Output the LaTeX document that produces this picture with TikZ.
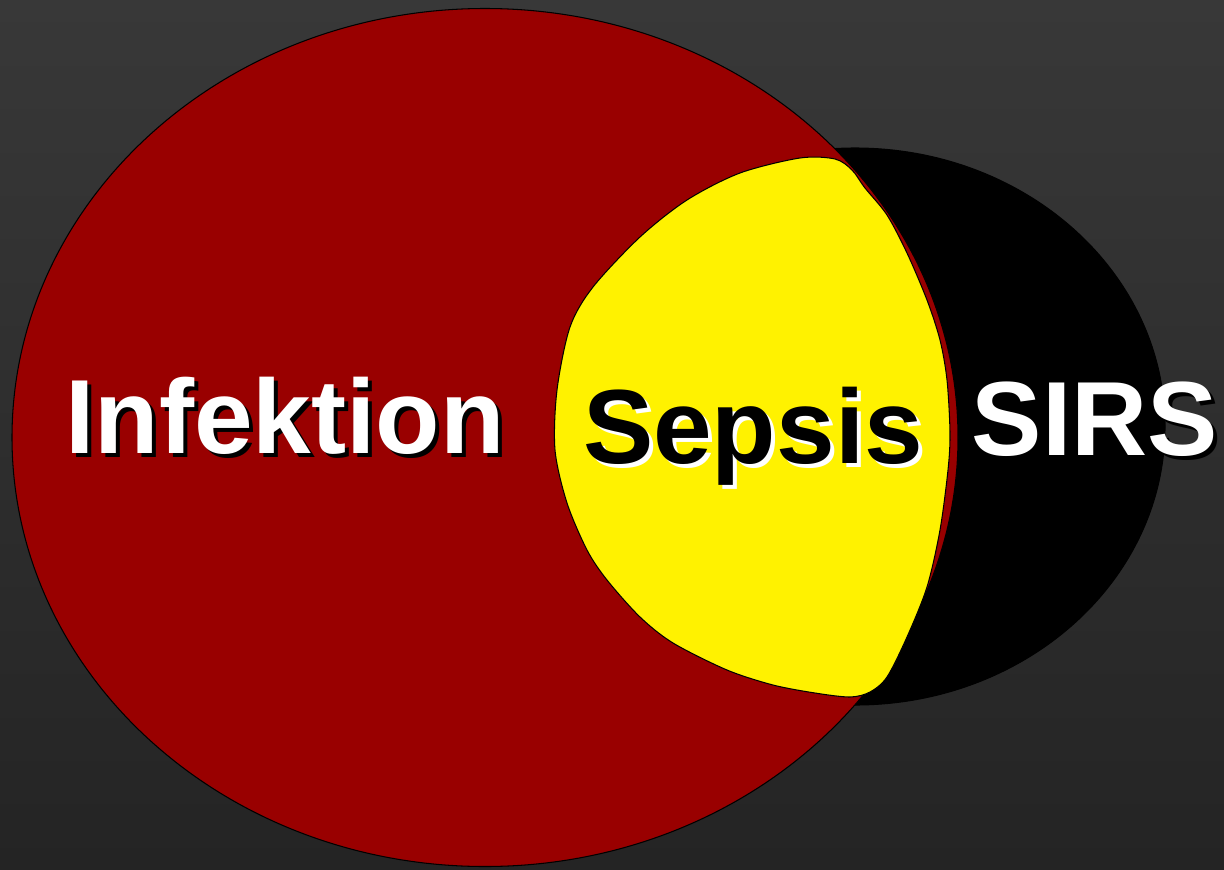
\documentclass[tikz,border=0pt]{standalone}
\usepackage{fontspec}
\setmainfont{Liberation Sans}
\usetikzlibrary{positioning}
\definecolor{bgtop}{RGB}{56,56,56}
\definecolor{bgmid}{RGB}{74,74,74}
\definecolor{bgbot}{RGB}{36,36,36}
\definecolor{infred}{RGB}{153,0,0}

\begin{document}
\begin{tikzpicture}[x=0.02cm,y=-0.02cm,every node/.style={font=\fontsize{60}{72}\selectfont\bfseries},
  lbl/.style={inner sep=0pt,anchor=base},
  outl/.style={draw=black,line width=.6pt}]
\useasboundingbox (0,0) rectangle (1224,869);
\shade[top color=bgtop,middle color=bgmid,bottom color=bgbot] (0,0) rectangle (1224,869);
% SIRS, then Infektion on top
\filldraw[outl,fill=black] (855,426.5) ellipse [x radius=310, y radius=278.5];
\filldraw[outl,fill=infred] (485,437.5) ellipse [x radius=473, y radius=429];
% Sepsis area
\filldraw[outl,fill=yellow] plot[smooth cycle,tension=.5] coordinates {
 (800,158) (835,159) (852,170) (865,188) (887,215) (907,253) (927,300) (940,340)
 (947,380) (950,433) (948,470) (940,530) (927,587) (907,637) (887,677) (870,692)
 (850,697) (815,693) (773,685) (727,670) (673,643) (640,617) (607,580) (587,550)
 (567,503) (555,450) (557,390) (570,327) (593,287) (640,237) (687,200) (740,173)};
% labels with shadow
\node[lbl,text=black] (infs) at (289,457) {Infektion};
\node[lbl,text=white] (inf) at (285,453) {Infektion};
\node[lbl,text=white] (seps) at (757,467) {Sepsis};
\node[lbl,text=black] (sep) at (753,463) {Sepsis};
\node[lbl,text=black] (sirss) at (1099,459) {SIRS};
\node[lbl,text=white] (sirs) at (1095,455) {SIRS};
\end{tikzpicture}
\end{document}
